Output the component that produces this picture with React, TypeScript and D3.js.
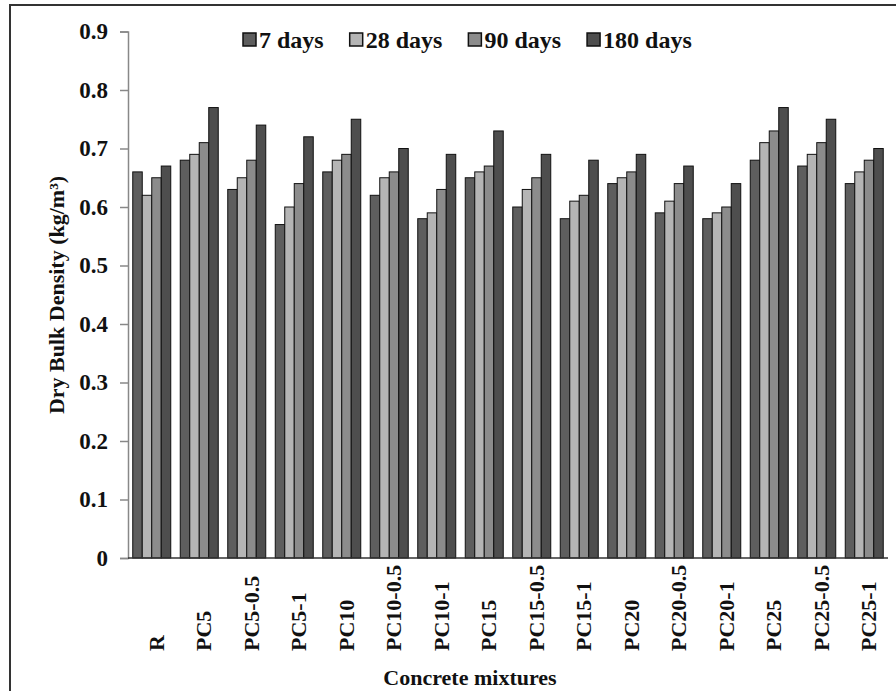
import React, { useEffect, useRef } from 'react';
import * as d3 from 'd3';

// chart data
const mixtures = [
  'R', 'PC5', 'PC5-0.5', 'PC5-1', 'PC10', 'PC10-0.5', 'PC10-1', 'PC15',
  'PC15-0.5', 'PC15-1', 'PC20', 'PC20-0.5', 'PC20-1', 'PC25', 'PC25-0.5', 'PC25-1',
];
const ages = ['7 days', '28 days', '90 days', '180 days'];
const days7 = [0.66, 0.68, 0.63, 0.57, 0.66, 0.62, 0.58, 0.65, 0.60, 0.58, 0.64, 0.59, 0.58, 0.68, 0.67, 0.64];
const days28 = [0.62, 0.69, 0.65, 0.60, 0.68, 0.65, 0.59, 0.66, 0.63, 0.61, 0.65, 0.61, 0.59, 0.71, 0.69, 0.66];
const days90 = [0.65, 0.71, 0.68, 0.64, 0.69, 0.66, 0.63, 0.67, 0.65, 0.62, 0.66, 0.64, 0.60, 0.73, 0.71, 0.68];
const days180 = [0.67, 0.77, 0.74, 0.72, 0.75, 0.70, 0.69, 0.73, 0.69, 0.68, 0.69, 0.67, 0.64, 0.77, 0.75, 0.70];
const yTicks = [0, 0.1, 0.2, 0.3, 0.4, 0.5, 0.6, 0.7, 0.8, 0.9];
const colors = ['#5e5e5e', '#b5b5b5', '#8c8c8c', '#4e4e4e'];

const W = 896;
const H = 691;
const FONT = '"Liberation Serif", "Times New Roman", serif';

const App = () => {
  const ref = useRef<SVGSVGElement>(null);

  useEffect(() => {
    const svg = d3.select(ref.current);
    svg.selectAll('*').remove();

    const series = [days7, days28, days90, days180];
    const rows = mixtures.map((m, i) => ({ name: m, values: series.map(s => s[i]) }));

    const left = 128, right = 888, top = 31.5, bottom = 558;

    // outer frame
    svg.append('rect')
      .attr('x', 10).attr('y', 5)
      .attr('width', 900).attr('height', 700)
      .attr('fill', 'white')
      .attr('stroke', '#333').attr('stroke-width', 2);

    const x = d3.scaleBand<string>()
      .domain(mixtures)
      .range([left, right])
      .paddingInner(0.2)
      .paddingOuter(0.1);
    const xi = d3.scaleBand<string>()
      .domain(ages)
      .range([0, x.bandwidth()]);
    const y = d3.scaleLinear().domain([0, 0.9]).range([bottom, top]);

    // bars
    const groups = svg.append('g')
      .selectAll('g')
      .data(rows)
      .enter()
      .append('g')
      .attr('transform', d => `translate(${x(d.name)},0)`);
    groups.selectAll('rect')
      .data(d => d.values)
      .enter()
      .append('rect')
      .attr('x', (_, j) => xi(ages[j])!)
      .attr('y', d => y(d))
      .attr('width', xi.bandwidth())
      .attr('height', d => bottom - y(d))
      .attr('fill', (_, j) => colors[j])
      .attr('stroke', '#111')
      .attr('stroke-width', 1);

    // y axis
    const yAxis = svg.append('g')
      .attr('transform', `translate(${left},0)`)
      .call(d3.axisLeft(y).tickValues(yTicks).tickSize(8).tickPadding(12)
        .tickFormat(d => (d === 0 ? '0' : d3.format('.1f')(d as number))));
    yAxis.select('.domain').attr('stroke', '#888').attr('stroke-width', 1.5);
    yAxis.selectAll('.tick line').attr('stroke', '#888').attr('stroke-width', 1.5);
    yAxis.selectAll('.tick text')
      .attr('fill', '#111')
      .style('font-family', FONT)
      .style('font-weight', 'bold')
      .style('font-size', '23px');

    // x axis baseline
    svg.append('line')
      .attr('x1', left).attr('x2', right)
      .attr('y1', bottom).attr('y2', bottom)
      .attr('stroke', '#333').attr('stroke-width', 1.5);

    // x labels, rotated
    svg.append('g')
      .selectAll('text')
      .data(mixtures)
      .enter()
      .append('text')
      .attr('transform', d => `translate(${x(d)! + x.bandwidth() / 2 + 12},651) rotate(-90)`)
      .attr('text-anchor', 'start')
      .style('font-family', FONT)
      .style('font-weight', 'bold')
      .style('font-size', '22px')
      .attr('fill', '#111')
      .text(d => d);

    // axis titles
    svg.append('text')
      .attr('transform', 'translate(64,295) rotate(-90)')
      .attr('text-anchor', 'middle')
      .style('font-family', FONT)
      .style('font-weight', 'bold')
      .style('font-size', '22px')
      .attr('fill', '#111')
      .text('Dry Bulk Density (kg/m³)');
    svg.append('text')
      .attr('x', 470).attr('y', 685)
      .attr('text-anchor', 'middle')
      .style('font-family', FONT)
      .style('font-weight', 'bold')
      .style('font-size', '22px')
      .attr('fill', '#111')
      .text('Concrete mixtures');

    // legend
    const legend = svg.append('g').attr('transform', 'translate(243,48)');
    let lx = 0;
    ages.forEach((a, j) => {
      const item = legend.append('g').attr('transform', `translate(${lx},0)`);
      item.append('rect')
        .attr('x', 0).attr('y', -15)
        .attr('width', 13).attr('height', 13)
        .attr('fill', colors[j])
        .attr('stroke', '#111').attr('stroke-width', 1.5);
      const t = item.append('text')
        .attr('x', 16).attr('y', 0)
        .style('font-family', FONT)
        .style('font-weight', 'bold')
        .style('font-size', '24px')
        .attr('fill', '#111')
        .text(a);
      const tw = (t.node() as SVGTextElement).getComputedTextLength();
      lx += 16 + tw + 26;
    });
  }, []);

  return (
    <svg
      ref={ref}
      width={W}
      height={H}
      style={{ position: 'absolute', left: 0, top: 0, background: 'white' }}
    />
  );
};

export default App;
